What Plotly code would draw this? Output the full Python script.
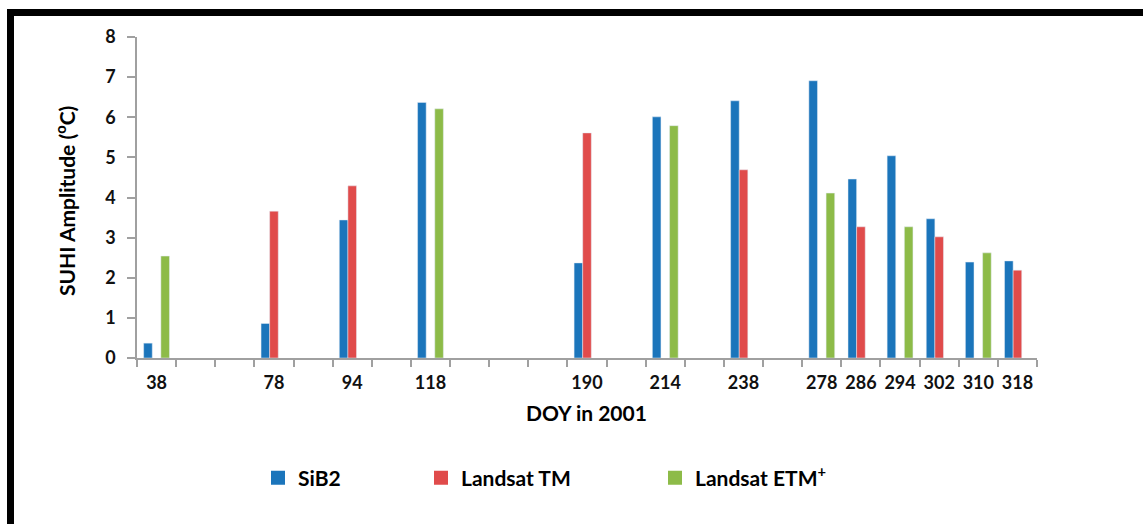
import plotly.graph_objects as go

# Day-of-year categories; blank slots keep the spacing of the time axis
doy_axis = ["38", " ", "  ", "78", "   ", "94", "    ", "118", "     ", "      ", "       ",
            "190", "        ", "214", "         ", "238", "          ",
            "278", "286", "294", "302", "310", "318"]
doy = ["38", "78", "94", "118", "190", "214", "238", "278", "286", "294", "302", "310", "318"]

sib2 = [0.37, 0.86, 3.44, 6.37, 2.37, 6.01, 6.41, 6.91, 4.46, 5.04, 3.47, 2.39, 2.42]
landsat_tm = [None, 3.66, 4.29, None, 5.61, None, 4.69, None, 3.27, None, 3.02, None, 2.19]
landsat_etm = [2.54, None, None, 6.21, None, 5.79, None, 4.11, None, 3.27, None, 2.62, None]

series_names = ["SiB2", "Landsat TM", "Landsat ETM<sup>+</sup>"]
series_colors = ["#1B75BB", "#E04B4B", "#8DBB48"]

W, H = 1143, 524
L, R, T, B = 137, 1037, 37, 358  # plot area in pixels

def px(x):
    return (x - L) / (R - L)

def py(y):
    return (B - y) / (B - T)

FONT = "Lato"
INK = "#111111"

fig = go.Figure()
for name, values, color in zip(series_names, [sib2, landsat_tm, landsat_etm], series_colors):
    fig.add_trace(go.Bar(name=name, x=doy, y=values, marker_color=color, showlegend=False))

# Square legend keys, one legend box per series
for i, (name, color) in enumerate(zip(series_names, series_colors)):
    fig.add_trace(go.Scatter(name=name, x=[None], y=[None], mode="markers",
                             marker=dict(symbol="square", size=14, color=color,
                                         line=dict(width=0)),
                             legend="legend" if i == 0 else f"legend{i + 1}",
                             showlegend=True, hoverinfo="skip"))

legend_style = dict(orientation="h", yanchor="middle", xanchor="left",
                    itemwidth=30, itemsizing="trace",
                    font=dict(family=FONT, size=21, color="#000000", weight="bold"),
                    bgcolor="rgba(0,0,0,0)", itemclick=False, itemdoubleclick=False)

fig.update_layout(
    width=W, height=H, autosize=False, showlegend=True,
    margin=dict(l=L, r=W - R, t=T, b=H - B, pad=0),
    paper_bgcolor="white", plot_bgcolor="white",
    barmode="group", bargap=0.34, bargroupgap=0,
    font=dict(family=FONT, color=INK),
    legend=dict(x=px(258), y=py(478), **legend_style),
    legend2=dict(x=px(421), y=py(478), **legend_style),
    legend3=dict(x=px(655), y=py(478), **legend_style),
    xaxis=dict(type="category", categoryorder="array", categoryarray=doy_axis,
               tickvals=doy_axis, ticktext=doy_axis, tickangle=0,
               tickson="boundaries", ticks="outside", ticklen=7, tickwidth=1.5,
               tickcolor="#A0A0A0", showline=True, linecolor="#A0A0A0", linewidth=1.5,
               showgrid=False, tickfont=dict(family=FONT, size=18, color=INK, weight="bold"),
               ticklabelstandoff=8, fixedrange=True),
    yaxis=dict(range=[0, 8], dtick=1, ticks="outside", ticklen=8, tickwidth=1.5,
               tickcolor="#A0A0A0", showline=True, linecolor="#A0A0A0", linewidth=1.5,
               showgrid=False, zeroline=False,
               tickfont=dict(family=FONT, size=18, color=INK, weight="bold"),
               ticklabelstandoff=8, fixedrange=True),
)

# Axis titles
fig.add_annotation(text="<b>SUHI Amplitude (<sup>o</sup>C)</b>", textangle=-90,
                   xref="paper", yref="paper", x=px(65), y=py(201),
                   xanchor="center", yanchor="middle", showarrow=False,
                   font=dict(family=FONT, size=21, color="#000000"))
fig.add_annotation(text="<b>DOY in 2001</b>",
                   xref="paper", yref="paper", x=px(586), y=py(413),
                   xanchor="center", yanchor="middle", showarrow=False,
                   font=dict(family=FONT, size=21, color="#000000"))

# Black frame around the figure (top and left edges)
fig.add_shape(type="rect", xref="paper", yref="paper",
              x0=px(7), x1=px(W + 10), y0=py(9), y1=py(16),
              fillcolor="black", line_width=0, layer="above")
fig.add_shape(type="rect", xref="paper", yref="paper",
              x0=px(7), x1=px(14), y0=py(9), y1=py(H + 10),
              fillcolor="black", line_width=0, layer="above")

fig.write_html("out.html")
